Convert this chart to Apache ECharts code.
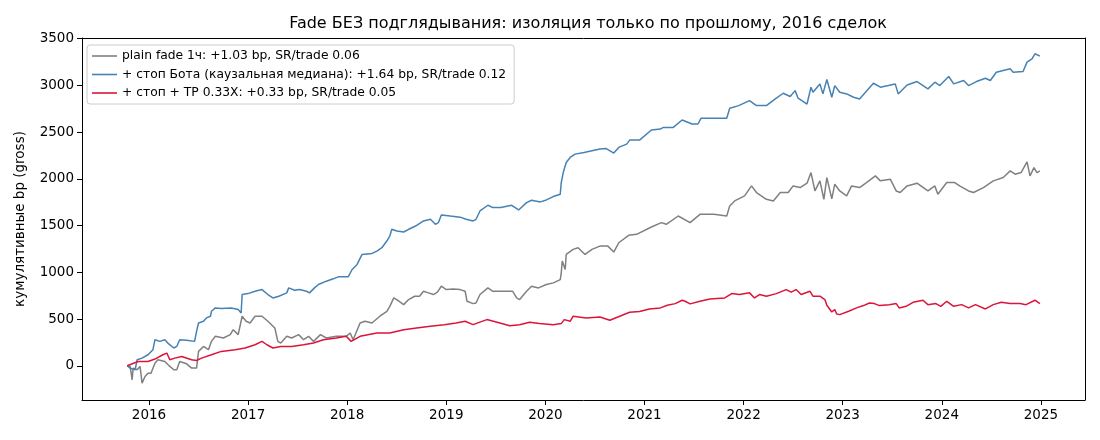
<!DOCTYPE html>
<html>
<head>
<meta charset="utf-8">
<script src="https://cdn.jsdelivr.net/npm/echarts@6/dist/echarts.min.js"></script>
<style>
  html, body { margin: 0; padding: 0; background: #fff; }
  #chart { width: 1100px; height: 440px; }
</style>
</head>
<body>
<div id="chart"></div>
<script>
// данные: [год (дробный), кумулятивные bp]
const yearTicks = [2016, 2017, 2018, 2019, 2020, 2021, 2022, 2023, 2024, 2025];
const valueTicks = [0, 500, 1000, 1500, 2000, 2500, 3000, 3500];

const seriesNames = [
  "plain fade 1ч: +1.03 bp, SR/trade 0.06",
  "+ стоп Бота (каузальная медиана): +1.64 bp, SR/trade 0.12",
  "+ стоп + TP 0.33X: +0.33 bp, SR/trade 0.05"
];

const plainFade = [
  [2015.78,0],[2015.81,-7],[2015.83,-150],[2015.84,-25],[2015.88,-43],[2015.91,-7],[2015.93,-186],
  [2015.96,-115],[2015.99,-79],[2016.02,-79],[2016.06,28],[2016.09,64],[2016.16,46],[2016.21,-7],
  [2016.25,-43],[2016.28,-43],[2016.31,46],[2016.38,21],[2016.43,-25],[2016.48,-25],[2016.50,154],
  [2016.55,207],[2016.60,172],[2016.63,261],[2016.67,315],[2016.75,297],[2016.82,333],[2016.85,386],
  [2016.90,333],[2016.94,530],[2016.98,476],[2017.02,458],[2017.07,530],[2017.14,530],[2017.20,476],
  [2017.27,404],[2017.30,261],[2017.33,243],[2017.39,315],[2017.44,297],[2017.51,333],[2017.56,279],
  [2017.61,315],[2017.66,261],[2017.73,333],[2017.79,297],[2017.89,315],[2017.99,315],[2018.03,351],
  [2018.06,279],[2018.13,458],[2018.18,476],[2018.25,458],[2018.33,530],[2018.40,583],[2018.43,636],
  [2018.47,726],[2018.50,708],[2018.57,654],[2018.62,708],[2018.68,744],[2018.73,744],[2018.77,797],
  [2018.82,780],[2018.87,762],[2018.91,787],[2018.95,851],[2019.00,815],[2019.07,822],[2019.14,815],
  [2019.19,797],[2019.21,690],[2019.27,665],[2019.30,672],[2019.34,762],[2019.42,833],[2019.47,797],
  [2019.57,797],[2019.67,797],[2019.71,726],[2019.74,708],[2019.81,797],[2019.86,851],[2019.93,833],
  [2020.01,869],[2020.08,887],[2020.15,922],[2020.16,994],[2020.17,1120],[2020.20,1030],[2020.21,1191],
  [2020.28,1245],[2020.33,1263],[2020.40,1191],[2020.47,1245],[2020.55,1280],[2020.63,1280],[2020.69,1216],
  [2020.74,1316],[2020.84,1395],[2020.92,1406],[2021.07,1484],[2021.17,1531],[2021.22,1513],[2021.34,1602],
  [2021.46,1531],[2021.56,1620],[2021.70,1620],[2021.83,1602],[2021.86,1710],[2021.91,1763],[2022.01,1817],
  [2022.08,1924],[2022.13,1853],[2022.23,1781],[2022.30,1763],[2022.37,1853],[2022.45,1853],[2022.50,1924],
  [2022.57,1906],[2022.64,1953],[2022.68,2067],[2022.72,1870],[2022.77,1978],[2022.81,1781],[2022.84,2013],
  [2022.89,1785],[2022.92,1942],[2022.97,1870],[2023.04,1817],[2023.09,1924],[2023.17,1906],[2023.24,1960],
  [2023.33,2031],[2023.38,1978],[2023.48,1996],[2023.54,1870],[2023.58,1853],[2023.65,1924],[2023.75,1953],
  [2023.86,1870],[2023.93,1924],[2023.96,1835],[2024.05,1960],[2024.13,1960],[2024.18,1924],[2024.27,1870],
  [2024.32,1853],[2024.42,1906],[2024.52,1978],[2024.62,2013],[2024.69,2085],[2024.74,2049],[2024.80,2067],
  [2024.86,2182],[2024.89,2031],[2024.93,2120],[2024.96,2067],[2024.99,2085]
];

const botStop = [
  [2015.78,0],[2015.81,-25],[2015.86,-43],[2015.88,64],[2015.93,82],[2015.99,118],[2016.04,172],
  [2016.06,279],[2016.11,261],[2016.16,279],[2016.19,243],[2016.25,190],[2016.28,207],[2016.31,279],
  [2016.38,272],[2016.46,261],[2016.48,368],[2016.50,458],[2016.55,476],[2016.58,512],[2016.62,530],
  [2016.63,583],[2016.67,619],[2016.73,612],[2016.83,619],[2016.90,601],[2016.93,565],[2016.94,762],
  [2017.00,772],[2017.07,797],[2017.14,815],[2017.20,762],[2017.25,726],[2017.31,744],[2017.39,780],
  [2017.41,833],[2017.47,808],[2017.52,815],[2017.59,797],[2017.62,780],[2017.67,833],[2017.71,869],
  [2017.79,905],[2017.86,930],[2017.91,951],[2018.01,951],[2018.05,1030],[2018.10,1084],[2018.15,1191],
  [2018.25,1202],[2018.30,1227],[2018.35,1263],[2018.40,1334],[2018.43,1388],[2018.45,1460],[2018.50,1441],
  [2018.57,1431],[2018.62,1460],[2018.69,1495],[2018.77,1549],[2018.84,1567],[2018.89,1513],[2018.92,1531],
  [2018.95,1613],[2019.04,1602],[2019.14,1590],[2019.20,1567],[2019.27,1549],[2019.30,1567],[2019.34,1656],
  [2019.42,1717],[2019.47,1692],[2019.55,1692],[2019.66,1717],[2019.73,1667],[2019.81,1745],[2019.86,1770],
  [2019.95,1753],[2020.01,1774],[2020.08,1810],[2020.15,1835],[2020.16,1960],[2020.18,2067],[2020.21,2175],
  [2020.25,2228],[2020.30,2264],[2020.39,2282],[2020.47,2300],[2020.55,2318],[2020.61,2325],[2020.69,2275],
  [2020.74,2336],[2020.82,2371],[2020.85,2414],[2020.95,2414],[2021.07,2522],[2021.16,2532],[2021.19,2550],
  [2021.29,2550],[2021.38,2629],[2021.48,2586],[2021.54,2586],[2021.57,2647],[2021.83,2647],[2021.86,2754],
  [2021.95,2783],[2022.06,2836],[2022.13,2783],[2022.23,2783],[2022.32,2854],[2022.40,2915],[2022.47,2880],
  [2022.52,2943],[2022.55,2862],[2022.64,2800],[2022.68,2980],[2022.70,2926],[2022.77,3015],[2022.80,2908],
  [2022.84,3062],[2022.89,2872],[2022.92,2997],[2022.97,2926],[2023.04,2908],[2023.11,2872],[2023.17,2854],
  [2023.23,2926],[2023.31,3022],[2023.38,2980],[2023.46,2997],[2023.53,3015],[2023.56,2908],[2023.65,3004],
  [2023.75,3040],[2023.86,2962],[2023.93,3033],[2023.98,2997],[2024.07,3094],[2024.12,3015],[2024.22,3051],
  [2024.27,2997],[2024.35,3040],[2024.44,3076],[2024.49,3051],[2024.55,3140],[2024.69,3176],[2024.72,3140],
  [2024.82,3147],[2024.86,3248],[2024.91,3283],[2024.94,3337],[2024.99,3312]
];

const stopTp = [
  [2015.78,0],[2015.89,46],[2015.99,46],[2016.06,72],[2016.14,118],[2016.18,136],[2016.21,64],[2016.26,82],
  [2016.33,100],[2016.43,64],[2016.48,57],[2016.53,82],[2016.63,118],[2016.73,154],[2016.87,172],
  [2016.97,190],[2017.07,225],[2017.14,261],[2017.19,225],[2017.25,190],[2017.33,207],[2017.44,207],
  [2017.56,225],[2017.66,243],[2017.76,279],[2017.89,297],[2017.99,315],[2018.04,261],[2018.13,315],
  [2018.30,351],[2018.43,351],[2018.57,386],[2018.70,404],[2018.84,422],[2018.98,440],[2019.10,458],
  [2019.19,476],[2019.27,440],[2019.41,494],[2019.54,458],[2019.64,429],[2019.74,440],[2019.84,465],
  [2019.94,451],[2020.08,440],[2020.16,451],[2020.19,494],[2020.25,476],[2020.28,530],[2020.41,512],
  [2020.55,522],[2020.65,487],[2020.75,530],[2020.85,572],[2020.95,580],[2021.05,608],[2021.16,619],
  [2021.23,647],[2021.31,665],[2021.38,701],[2021.41,690],[2021.46,662],[2021.56,690],[2021.66,715],
  [2021.81,726],[2021.88,772],[2021.96,762],[2022.06,780],[2022.11,726],[2022.16,762],[2022.23,744],
  [2022.33,772],[2022.43,815],[2022.48,787],[2022.53,815],[2022.58,762],[2022.67,797],[2022.70,744],
  [2022.77,744],[2022.82,708],[2022.84,647],[2022.89,576],[2022.92,601],[2022.94,554],[2022.97,547],
  [2023.06,583],[2023.14,619],[2023.21,644],[2023.27,672],[2023.32,665],[2023.37,644],[2023.47,654],
  [2023.54,665],[2023.57,619],[2023.64,636],[2023.71,679],[2023.81,701],[2023.86,654],[2023.94,665],
  [2023.99,636],[2024.05,690],[2024.12,636],[2024.20,654],[2024.27,619],[2024.34,654],[2024.44,608],
  [2024.52,654],[2024.60,679],[2024.69,665],[2024.79,665],[2024.85,654],[2024.94,701],[2024.99,665]
];

const colors = ["#808080", "#4682b4", "#dc143c"];
const font = "DejaVu Sans";
const xRange = { min: 2015.324, max: 2025.445 };
const yRange = { min: -366, max: 3506 };

const chart = echarts.init(document.getElementById("chart"));

// верхняя и правая рамка
const frameAxis = (extra) => Object.assign({
  type: "value",
  axisLine: { show: true, onZero: false, lineStyle: { color: "#000", width: 1 } },
  axisTick: { show: false },
  axisLabel: { show: false },
  splitLine: { show: false }
}, extra);

chart.setOption({
  animation: false,
  textStyle: { fontFamily: font },
  title: {
    text: "Fade БЕЗ подглядывания: изоляция только по прошлому, 2016 сделок",
    left: 583,
    textAlign: "center",
    top: 11,
    textStyle: { fontFamily: font, fontSize: 16, fontWeight: "normal", color: "#000" }
  },
  legend: {
    orient: "vertical",
    left: 87,
    top: 45,
    icon: "rect",
    itemWidth: 25,
    itemHeight: 1.6,
    itemGap: 6.5,
    padding: [5, 8, 5, 5],
    backgroundColor: "rgba(255,255,255,0.8)",
    borderColor: "#cccccc",
    borderWidth: 1,
    borderRadius: 3,
    textStyle: { fontFamily: font, fontSize: 12.3, color: "#000" },
    data: seriesNames
  },
  grid: { left: 82, right: 15, top: 38, bottom: 40 },
  xAxis: [{
    type: "value",
    min: xRange.min,
    max: xRange.max,
    splitLine: { show: false },
    axisLine: { show: true, onZero: false, lineStyle: { color: "#000", width: 1 } },
    axisTick: { show: true, length: 5, lineStyle: { color: "#000" }, customValues: yearTicks },
    axisLabel: { customValues: yearTicks, color: "#000", fontSize: 13.5, margin: 8, fontFamily: font,
      formatter: v => String(Math.round(v)) }
  }, frameAxis({ position: "top", min: xRange.min, max: xRange.max })],
  yAxis: [{
    type: "value",
    min: yRange.min,
    max: yRange.max,
    name: "кумулятивные bp (gross)",
    nameLocation: "middle",
    nameGap: 55,
    nameTextStyle: { fontFamily: font, fontSize: 13.5, color: "#000" },
    splitLine: { show: false },
    axisLine: { show: true, onZero: false, lineStyle: { color: "#000", width: 1 } },
    axisTick: { show: true, length: 5, lineStyle: { color: "#000" }, customValues: valueTicks },
    axisLabel: { customValues: valueTicks, color: "#000", fontSize: 13.5, margin: 8, fontFamily: font,
      formatter: v => String(Math.round(v)) }
  }, frameAxis({ position: "right", min: yRange.min, max: yRange.max })],
  series: [plainFade, botStop, stopTp].map((d, i) => ({
    name: seriesNames[i],
    type: "line",
    data: d,
    showSymbol: false,
    symbol: "none",
    lineStyle: { color: colors[i], width: 1.5 },
    itemStyle: { color: colors[i] },
    z: 2 + i
  }))
});
</script>
</body>
</html>
